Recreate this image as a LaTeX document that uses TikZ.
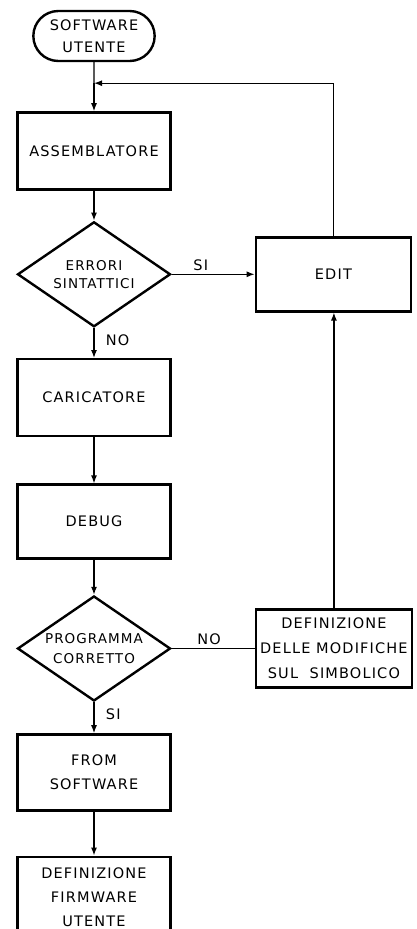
\documentclass[tikz,border=0pt]{standalone}
\usepackage{fontspec}
\setmainfont{DejaVu Sans}[LetterSpace=8]
\usetikzlibrary{shapes.geometric, shapes.misc, arrows.meta, positioning}

\begin{document}
\begin{tikzpicture}[
  x=1pt, y=-1pt,
  font=\fontsize{14.5}{17}\selectfont,
  block/.style={rectangle, draw=black, line width=2.4pt, minimum width=153pt, minimum height=77pt, align=center},
  decision/.style={diamond, draw=black, line width=2.4pt, minimum width=153pt, minimum height=105pt, inner sep=0pt, shape aspect=1.46, align=center, font=\fontsize{13.5}{16}\selectfont},
  terminal/.style={rounded rectangle, draw=black, line width=2.4pt, minimum width=128pt, minimum height=50pt, align=center},
  arrow/.style={-{Latex[length=8pt,width=6pt]}, line width=1.3pt},
  line/.style={line width=1.3pt},
]

\useasboundingbox (0,0) rectangle (416,929);
\clip (0,0) rectangle (416,929);

% Main chain
\node[terminal] (start) at (94,36) {SOFTWARE\\[5pt]UTENTE};
\node[block, below=49pt of start] (asm) {ASSEMBLATORE};
\node[decision, below=30pt of asm] (err) {ERRORI\\[2pt]SINTATTICI};
\node[block, below=30pt of err] (load) {CARICATORE};
\node[block, below=46pt of load, minimum height=74pt] (debug) {DEBUG};
\node[decision, below=35pt of debug] (prog) {PROGRAMMA\\[4pt]CORRETTO};
\node[block, below=31pt of prog, minimum height=76pt] (rom) {FROM\\[7pt]SOFTWARE};
\node[block, below=44pt of rom, minimum height=80pt] (fw) {DEFINIZIONE\\[7pt]FIRMWARE\\[7pt]UTENTE};

% Side branch
\node[block, right=83pt of err, minimum width=155pt, minimum height=74pt] (edit) {EDIT};
\node[block, right=83pt of prog, minimum width=156pt, minimum height=78pt, inner xsep=1pt] (modif) {DEFINIZIONE\\[8pt]DELLE MODIFICHE\\[8pt]SUL\ \ SIMBOLICO};
\coordinate[below=21pt of start] (join);

% Connections
\draw[line] (start) -- (join);
\draw[arrow] (join) -- (asm);
\draw[arrow] (asm) -- (err);
\draw[arrow] (err) -- node[right=8pt, pos=0.4] {NO} (load);
\draw[arrow] (err) -- node[above, pos=0.35] {SI} (edit);
\draw[arrow] (load) -- (debug);
\draw[arrow] (debug) -- (prog);
\draw[line] (prog) -- node[above, pos=0.45] {NO} (modif);
\draw[arrow] (prog) -- node[right=8pt, pos=0.4] {SI} (rom);
\draw[arrow] (rom) -- (fw);
\draw[arrow] (modif.north) -- (modif.north |- edit.south);
\draw[arrow] (edit.north) |- (join);

\end{tikzpicture}
\end{document}
